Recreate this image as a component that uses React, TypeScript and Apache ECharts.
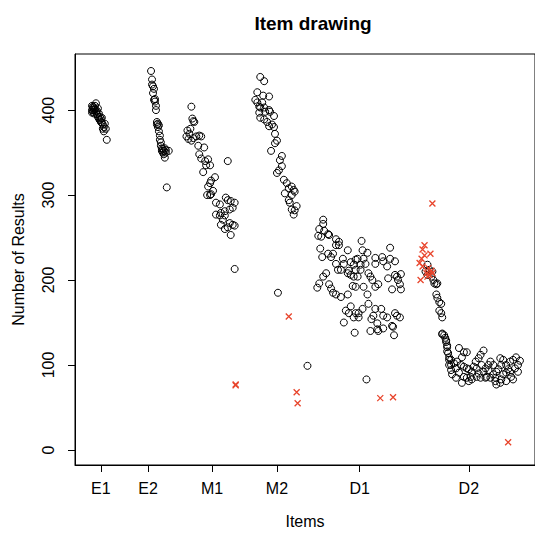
import React, { useEffect, useRef } from "react";
import * as echarts from "echarts";

// x = item index, y = number of results
const e1Points: [number, number][] = [
  [1, 405], [1, 400], [1, 397], [2, 402], [2, 398], [2, 404], [3, 400], [3, 396], [3, 403],
  [4, 401], [4, 405], [5, 398], [5, 408], [6, 399], [6, 395], [7, 402], [7, 392], [8, 396],
  [8, 390], [9, 392], [9, 388], [10, 390], [10, 386], [11, 391], [11, 385], [12, 383],
  [12, 378], [13, 380], [13, 375], [14, 384], [15, 378], [16, 365],
];
const e2Points: [number, number][] = [
  [61, 446], [62, 436], [62, 430], [63, 428], [63, 420], [64, 425], [64, 412], [65, 410],
  [65, 413], [66, 400], [66, 405], [67, 386], [67, 383], [68, 384], [68, 380], [69, 382],
  [69, 375], [70, 370], [70, 365], [71, 362], [71, 358], [72, 355], [72, 352], [73, 350],
  [73, 354], [74, 352], [74, 348], [75, 355], [75, 344], [76, 353], [76, 350], [77, 309], [79, 352],
];
const m1Points: [number, number][] = [
  [102, 404], [103, 390], [104, 387], [105, 386], [101, 378], [100, 372], [99, 366], [102, 364],
  [104, 367], [107, 369], [110, 370], [112, 369], [98, 376], [97, 369], [109, 358], [115, 356],
  [110, 348], [112, 343], [116, 340], [119, 342], [121, 335], [117, 335], [114, 327], [126, 321],
  [122, 317], [121, 314], [119, 310], [118, 300], [121, 300], [122, 301], [124, 305], [127, 291],
  [131, 289], [127, 277], [131, 276], [132, 279], [136, 281], [137, 297], [139, 294], [142, 293],
  [146, 291], [144, 285], [141, 283], [136, 276], [134, 271], [132, 265], [136, 260], [139, 262],
  [141, 267], [144, 265], [146, 264], [142, 253], [139, 340], [146, 213],
];
const m2Points: [number, number][] = [
  [172, 439], [176, 434], [169, 421], [175, 417], [181, 416], [167, 412], [169, 409], [171, 404],
  [172, 403], [174, 409], [176, 403], [177, 398], [181, 400], [182, 398], [186, 393], [171, 397],
  [172, 391], [176, 389], [179, 386], [181, 381], [184, 383], [186, 380], [187, 372], [189, 364],
  [187, 361], [183, 352], [194, 346], [192, 341], [194, 334], [191, 329], [189, 326], [196, 318],
  [199, 314], [201, 308], [204, 310], [206, 306], [207, 304], [204, 300], [201, 294], [202, 291],
  [204, 283], [206, 277], [207, 282], [209, 287], [197, 302], [190, 185],
];
const d1Points: [number, number][] = [
  [236, 271], [236, 266], [232, 260], [237, 258], [241, 254], [231, 252], [234, 251], [242, 253],
  [249, 248], [252, 245], [249, 241], [252, 241], [233, 237], [261, 235], [275, 246], [276, 235],
  [281, 232], [304, 238], [235, 227], [241, 231], [246, 231], [244, 227], [256, 225], [269, 224],
  [271, 225], [277, 225], [289, 226], [296, 227], [297, 222], [304, 225], [309, 222], [249, 219],
  [257, 219], [264, 221], [267, 218], [274, 218], [279, 219], [289, 219], [301, 216], [251, 212],
  [254, 212], [262, 211], [269, 212], [274, 212], [239, 208], [261, 208], [264, 206], [282, 208],
  [309, 206], [315, 207], [236, 204], [232, 196], [230, 191], [242, 195], [244, 190], [267, 204],
  [271, 204], [284, 204], [286, 200], [277, 192], [269, 192], [266, 193], [289, 192], [292, 195],
  [302, 202], [311, 204], [312, 200], [314, 195], [306, 189], [315, 189], [246, 185], [249, 183],
  [254, 180], [261, 183], [281, 183], [282, 172], [264, 169], [259, 164], [262, 161], [269, 161],
  [272, 161], [276, 166], [289, 166], [295, 166], [287, 158], [285, 154], [297, 158], [301, 156],
  [309, 161], [311, 158], [314, 156], [272, 156], [267, 156], [257, 150], [291, 149], [306, 146],
  [307, 145], [284, 140], [291, 142], [292, 140], [297, 143], [268, 138], [308, 135], [220, 99],
  [280, 83],
];
const d2Points: [number, number][] = [
  [342, 218], [340, 210], [344, 212], [342, 206], [346, 204], [347, 210], [348, 200], [349, 196],
  [351, 195], [352, 196], [351, 183], [352, 179], [354, 174], [356, 172], [354, 164], [356, 161],
  [357, 156], [357, 136], [359, 135], [360, 132], [361, 127], [362, 121], [363, 114], [364, 106],
  [366, 100], [357, 137], [361, 129], [362, 123], [362, 116], [364, 109], [366, 106], [364, 100],
  [366, 94], [367, 89], [371, 85], [374, 120], [379, 115], [382, 115], [377, 109], [372, 104],
  [376, 100], [379, 98], [382, 96], [371, 96], [374, 91], [379, 86], [382, 85], [386, 86],
  [384, 81], [377, 79], [387, 92], [391, 104], [394, 108], [399, 117], [396, 112], [397, 100],
  [392, 96], [401, 96], [404, 94], [406, 104], [409, 100], [412, 92], [409, 89], [402, 86],
  [401, 85], [411, 85], [416, 108], [417, 100], [419, 106], [422, 100], [426, 104], [429, 106],
  [432, 109], [434, 100], [431, 96], [426, 92], [422, 91], [419, 89], [417, 83], [422, 81],
  [429, 83], [412, 77], [416, 79], [411, 81], [406, 85], [396, 85], [392, 86], [387, 83],
  [369, 102], [384, 95], [389, 98], [394, 90], [399, 92], [404, 100], [414, 95], [424, 95],
  [427, 86], [434, 92], [436, 105],
];
const redPoints: [number, number][] = [
  [147, 77], [147, 76], [201, 157], [209, 68], [210, 55], [294, 61], [307, 62], [347, 290],
  [339, 241], [337, 236], [345, 231], [336, 225], [334, 220], [337, 216], [335, 200], [341, 208],
  [342, 204], [346, 211], [344, 206], [347, 208], [339, 229], [343, 214], [424, 9],
];
const xTickValues = [10, 58, 123, 189, 273, 384];
const xTickLabels = ["E1", "E2", "M1", "M2", "D1", "D2"];
const yTickValues = [0, 100, 200, 300, 400];

const FONT = "Liberation Sans, Arial, sans-serif";

export default function App() {
  const ref = useRef<HTMLDivElement>(null);
  useEffect(() => {
    if (!ref.current) return;
    const chart = echarts.init(ref.current, undefined, { renderer: "svg" });
    const black = [...e1Points, ...e2Points, ...m1Points, ...m2Points, ...d1Points, ...d2Points];
    chart.setOption({
      animation: false,
      backgroundColor: "#fff",
      title: {
        text: "Item drawing",
        left: 308,
        top: 9,
        textAlign: "center",
        textStyle: { fontFamily: FONT, fontSize: 19, fontWeight: "bold", color: "#000" },
      },
      grid: {
        left: 75,
        top: 54,
        width: 467,
        height: 418,
        show: true,
        borderColor: "#000",
        borderWidth: 1,
        backgroundColor: "transparent",
      },
      xAxis: {
        type: "value",
        min: -16.3,
        max: 451.3,
        name: "Items",
        nameLocation: "middle",
        nameGap: 48,
        nameTextStyle: { fontFamily: FONT, fontSize: 16, color: "#000" },
        axisLine: { show: true, onZero: false, lineStyle: { color: "#000", width: 1 } },
        axisTick: { show: true, length: 7, lineStyle: { color: "#000" }, customValues: xTickValues },
        axisLabel: {
          show: true,
          customValues: xTickValues,
          margin: 15,
          fontFamily: FONT,
          fontSize: 16,
          color: "#000",
          formatter: (v: number) => {
            const i = xTickValues.indexOf(v);
            return i >= 0 ? xTickLabels[i] : "";
          },
        },
        splitLine: { show: false },
      },
      yAxis: {
        type: "value",
        min: -17.7,
        max: 466,
        name: "Number of Results",
        nameLocation: "middle",
        nameGap: 49,
        nameTextStyle: { fontFamily: FONT, fontSize: 16, color: "#000" },
        axisLine: { show: true, onZero: false, lineStyle: { color: "#000", width: 1 } },
        axisTick: { show: true, length: 7, lineStyle: { color: "#000" }, customValues: yTickValues },
        axisLabel: {
          show: true,
          customValues: yTickValues,
          rotate: 90,
          margin: 19,
          fontFamily: FONT,
          fontSize: 16,
          color: "#000",
        },
        splitLine: { show: false },
      },
      series: [
        {
          type: "scatter",
          data: black,
          symbol: "circle",
          symbolSize: 7,
          silent: true,
          itemStyle: { color: "rgba(0,0,0,0)", borderColor: "#000", borderWidth: 1, opacity: 1 },
        },
        {
          type: "scatter",
          data: redPoints,
          symbol: "path://M0 0L10 10M10 0L0 10",
          symbolSize: 6,
          silent: true,
          itemStyle: { color: "rgba(0,0,0,0)", borderColor: "#E8452C", borderWidth: 1.3, opacity: 1 },
        },
      ],
    });
    return () => chart.dispose();
  }, []);
  return (
    <div
      ref={ref}
      style={{ position: "absolute", left: 0, top: 0, width: 535, height: 534, background: "#fff" }}
    />
  );
}
